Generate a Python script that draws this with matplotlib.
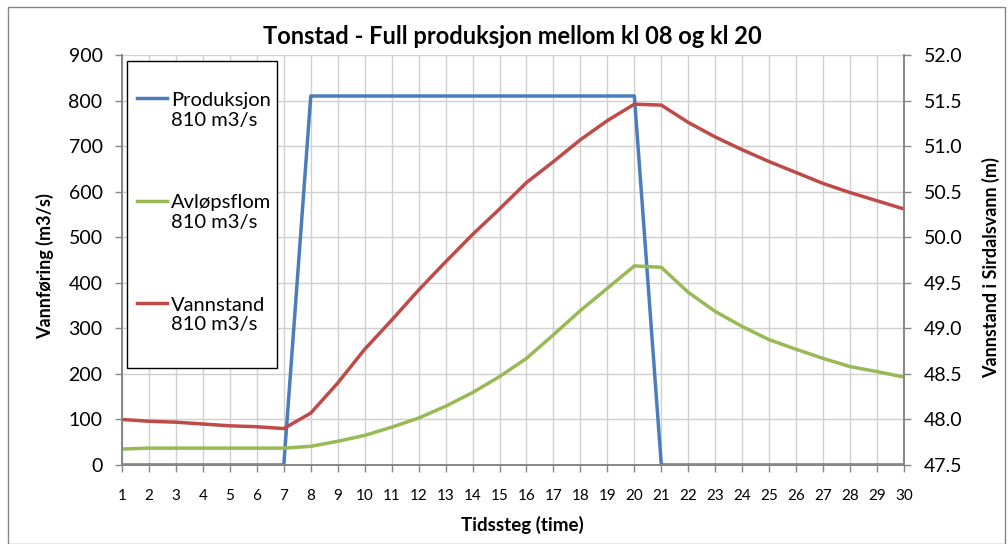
import matplotlib.pyplot as plt
from matplotlib.patches import Rectangle
from matplotlib.legend_handler import HandlerLine2D

plt.rcParams['font.family'] = ['Lato', 'DejaVu Sans']

steps = list(range(1, 31))
produksjon = [0] * 7 + [810] * 13 + [0] * 10
avlopsflom = [35, 37, 37, 37, 37, 37, 37, 41, 52, 65, 83, 103, 129, 159, 194,
              234, 286, 339, 388, 437, 434, 379, 337, 304, 275, 254, 234, 216, 205, 193]
vannstand = [48.00, 47.98, 47.97, 47.95, 47.93, 47.92, 47.90, 48.07, 48.40, 48.77,
             49.09, 49.42, 49.73, 50.03, 50.31, 50.60, 50.83, 51.07, 51.28, 51.46,
             51.45, 51.26, 51.10, 50.96, 50.83, 50.71, 50.59, 50.49, 50.40, 50.31]
labels = ['Produksjon\n810 m3/s', 'Avløpsflom\n810 m3/s', 'Vannstand\n810 m3/s']

blue = '#4A7EBB'
green = '#98B954'
red = '#BE4B48'
axis_col = '#868686'
W, H = 1008, 544


class FirstLineHandler(HandlerLine2D):
    # put the legend line next to the first line of a two-line label
    def create_artists(self, legend, orig_handle, xdescent, ydescent,
                       width, height, fontsize, trans):
        arts = super().create_artists(legend, orig_handle, xdescent, ydescent,
                                      width, height, fontsize, trans)
        for a in arts:
            a.set_ydata([y + 0.6 * fontsize for y in a.get_ydata()])
        return arts


fig = plt.figure(figsize=(W / 100, H / 100), dpi=100)
ax = fig.add_axes([122 / W, 1 - 465 / H, (904 - 122) / W, (465 - 55) / H])
ax2 = ax.twinx()

l1, = ax.plot(steps, produksjon, color=blue, lw=2.5)
l2, = ax.plot(steps, avlopsflom, color=green, lw=2.5)
l3, = ax2.plot(steps, vannstand, color=red, lw=2.5)

ax.set_xlim(1, 30)
ax.set_ylim(0, 900)
ax2.set_ylim(47.5, 52.0)
ax.set_xticks(steps)
ax.set_yticks(range(0, 901, 100))
ax2.set_yticks([47.5 + 0.5 * i for i in range(10)])
ax2.set_yticklabels(['%.1f' % (47.5 + 0.5 * i) for i in range(10)])

ax.grid(True, color='#d0d0d0', lw=1)
ax.set_axisbelow(True)

for a in (ax, ax2):
    a.spines['top'].set_visible(False)
    for s in ('left', 'right', 'bottom'):
        a.spines[s].set_color(axis_col)
        a.spines[s].set_linewidth(1.2)
    a.tick_params(color=axis_col, length=5, width=1)

ax.tick_params(axis='y', labelsize=14, pad=9)
ax2.tick_params(axis='y', labelsize=14, pad=9)
ax.tick_params(axis='x', labelsize=11, pad=12)

ax.set_xlabel('Tidssteg (time)', fontsize=13.5, fontweight='bold')
ax.xaxis.set_label_coords((522 - 122) / 782, (465 - 516) / 410)
ax.set_ylabel('Vannføring (m3/s)', fontsize=13, fontweight='bold')
ax.yaxis.set_label_coords((54 - 122) / 782, (465 - 266) / 410)
ax2.set_ylabel('Vannstand i Sirdalsvann (m)', fontsize=13, fontweight='bold')
ax2.yaxis.set_label_coords((982 - 122) / 782, (465 - 268) / 410)
fig.text(512 / W, 1 - 37 / H, 'Tonstad - Full produksjon mellom kl 08 og kl 20',
         fontsize=17, fontweight='bold', ha='center', va='center')

# legend frame
ax2.add_patch(Rectangle((127 / W, 1 - 368 / H), 150 / W, 307 / H, transform=fig.transFigure,
                        facecolor='white', edgecolor='black', lw=1, zorder=4.5, clip_on=False))
ax2.legend([l1, l2, l3], labels,
           handler_map={l1: FirstLineHandler(), l2: FirstLineHandler(), l3: FirstLineHandler()},
           loc='upper left', bbox_to_anchor=(137 / W, 1 - 92 / H),
           bbox_transform=fig.transFigure, borderaxespad=0, borderpad=0,
           fontsize=14.5, labelspacing=3.25, handlelength=1.5,
           handletextpad=0.2, frameon=False)

fig.patches.append(Rectangle((8 / W, 0), 1 - 11 / W, 1 - 7 / H, transform=fig.transFigure,
                             fill=False, edgecolor=axis_col, lw=1))

fig.savefig('out.png', dpi=100)
